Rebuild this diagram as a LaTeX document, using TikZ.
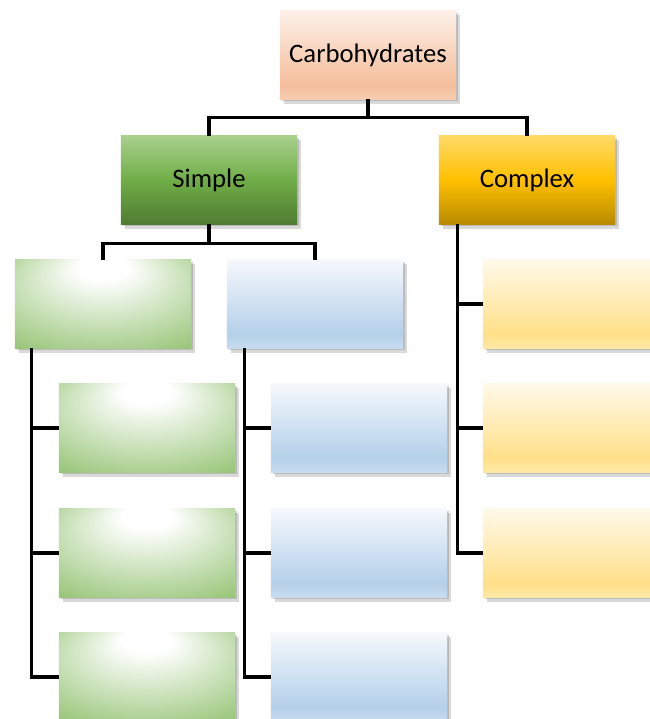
\documentclass[tikz,border=0pt]{standalone}
\usepackage{fontspec}
\setmainfont{Carlito}
\usetikzlibrary{positioning,calc,shadows}

\definecolor{peachtop}{HTML}{FDF0E8}
\definecolor{peachmid}{HTML}{F5BE9B}
\definecolor{peachbot}{HTML}{F7CDB2}
\definecolor{simpletop}{HTML}{A8D08D}
\definecolor{simplemid}{HTML}{70AD47}
\definecolor{simplebot}{HTML}{4F7C32}
\definecolor{cplxtop}{HTML}{FFD966}
\definecolor{cplxmid}{HTML}{FFC000}
\definecolor{cplxbot}{HTML}{B88A00}
\definecolor{greenedge}{HTML}{88BC63}
\definecolor{bluetop}{HTML}{F5F8FC}
\definecolor{bluemid}{HTML}{B4D0EA}
\definecolor{bluebot}{HTML}{C8DCEF}
\definecolor{yeltop}{HTML}{FFF9E9}
\definecolor{yelmid}{HTML}{FFE089}
\definecolor{yelbot}{HTML}{FFE9A6}

\pgfdeclareverticalshading{peachfill}{100bp}{color(0bp)=(peachbot); color(25bp)=(peachbot);
  color(33bp)=(peachmid); color(75bp)=(peachtop); color(100bp)=(peachtop)}
\pgfdeclareverticalshading{simplefill}{100bp}{color(0bp)=(simplebot); color(25bp)=(simplebot);
  color(50bp)=(simplemid); color(75bp)=(simpletop); color(100bp)=(simpletop)}
\pgfdeclareverticalshading{cplxfill}{100bp}{color(0bp)=(cplxbot); color(25bp)=(cplxbot);
  color(50bp)=(cplxmid); color(75bp)=(cplxtop); color(100bp)=(cplxtop)}
\pgfdeclareverticalshading{bluefill}{100bp}{color(0bp)=(bluebot); color(25bp)=(bluebot);
  color(33bp)=(bluemid); color(75bp)=(bluetop); color(100bp)=(bluetop)}
\pgfdeclareverticalshading{yelfill}{100bp}{color(0bp)=(yelbot); color(25bp)=(yelbot);
  color(33bp)=(yelmid); color(75bp)=(yeltop); color(100bp)=(yeltop)}
\pgfdeclareradialshading{greenglow}{\pgfpoint{0bp}{24bp}}{color(0bp)=(white);
  color(7bp)=(white); color(44bp)=(greenedge); color(50bp)=(greenedge)}

\tikzset{
  box/.style      = {minimum width=4.4cm, minimum height=2.2cm, inner sep=0pt,
                     font=\fontsize{19}{22}\selectfont, shade,
                     drop shadow={shadow xshift=1.2pt, shadow yshift=-1.6pt, opacity=.35},
                     drop shadow={shadow xshift=2.6pt, shadow yshift=-3.2pt, opacity=.3}},
  peachbox/.style = {box, shading=peachfill},
  simplebox/.style= {box, shading=simplefill},
  cplxbox/.style  = {box, shading=cplxfill},
  greenbox/.style = {box, shading=greenglow},
  bluebox/.style  = {box, shading=bluefill},
  yelbox/.style   = {box, shading=yelfill},
  link/.style     = {line width=2.2pt, black},
}

\begin{document}
\begin{tikzpicture}[x=0.025cm, y=-0.025cm]
  \useasboundingbox (0,0) rectangle (650,719);
  % top levels
  \node[peachbox] (carb) at (368,55) {Carbohydrates};
  \node[simplebox] (simple) at (209,180) {Simple};
  \node[cplxbox] (complex) at (527,180) {Complex};
  \draw[link] (carb.south) -- ++(0,18) -| (simple.north);
  \draw[link] (carb.south) -- ++(0,18) -| (complex.north);
  % simple branch
  \node[greenbox] (g0) at (103,304) {};
  \node[bluebox] (b0) at (315,304) {};
  \draw[link] (simple.south) -- ++(0,19) -| (g0.north);
  \draw[link] (simple.south) -- ++(0,19) -| (b0.north);
  \foreach \i/\y in {1/428,2/553,3/677} {
    \node[greenbox] (g\i) at (147,\y) {};
    \node[bluebox] (b\i) at (359,\y) {};
    \draw[link] ([xshift=0.425cm]g0.south west) |- (g\i.west);
    \draw[link] ([xshift=0.45cm]b0.south west) |- (b\i.west);
  }
  % complex branch
  \foreach \i/\y in {1/304,2/428,3/553} {
    \node[yelbox] (y\i) at (571,\y) {};
    \draw[link] ([xshift=0.475cm]complex.south west) |- (y\i.west);
  }
\end{tikzpicture}
\end{document}
